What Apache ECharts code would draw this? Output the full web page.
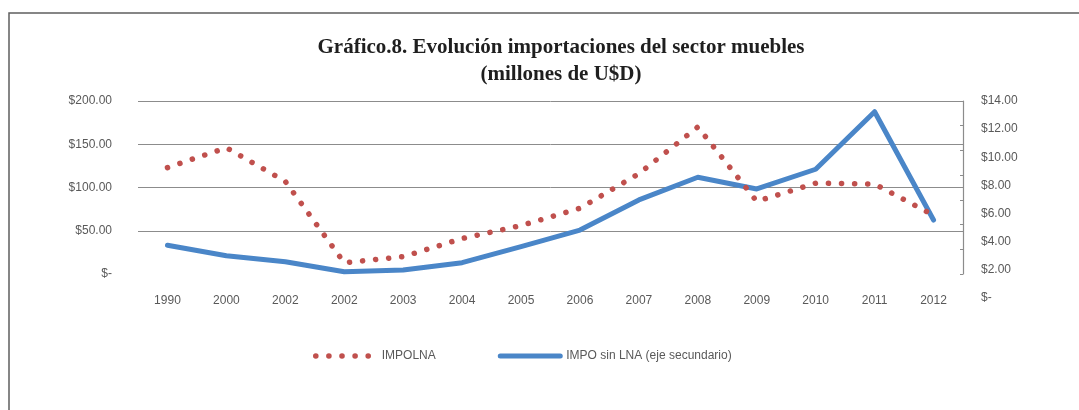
<!DOCTYPE html>
<html>
<head>
<meta charset="utf-8">
<script src="https://cdn.jsdelivr.net/npm/echarts@6/dist/echarts.min.js"></script>
<style>
  html, body { margin: 0; padding: 0; background: #ffffff; }
  #chart { width: 1079px; height: 410px; }
</style>
</head>
<body>
<div id="chart"></div>
<script>
// Years shown on the horizontal axis
const years = ['1990', '2000', '2002', '2002', '2003', '2004', '2005', '2006',
               '2007', '2008', '2009', '2010', '2011', '2012'];

// IMPOLNA, millions of U$D (left axis)
const impolna = [123, 146, 107, 13, 20, 41, 56, 76, 116, 170, 84, 105, 104, 68];

// IMPO sin LNA, millions of U$D (secondary axis)
const impoSinLna = [3.75, 3.0, 2.58, 1.87, 1.99, 2.51, 3.65, 4.83, 6.97, 8.58, 7.75, 9.15, 13.24, 5.54];

const seriesNames = ['IMPOLNA', 'IMPO sin LNA (eje secundario)'];

const RED = '#C0504D';
const BLUE = '#4A86C8';

const money = v => (v === 0 ? '$-' : '$' + v.toFixed(2));

const labelFont = { fontFamily: 'Liberation Sans, Arial, sans-serif', fontSize: 12, color: '#595959' };

const dotted = { color: RED, width: 5.5, type: [0.1, 13], cap: 'round' };
const solid = { color: BLUE, width: 5, cap: 'round', join: 'round' };

const chart = echarts.init(document.getElementById('chart'), null, { renderer: 'canvas' });

chart.setOption({
  backgroundColor: '#ffffff',
  animation: false,
  title: {
    text: 'Gráfico.8. Evolución importaciones del sector muebles\n(millones de U$D)',
    left: 556,
    top: 29,
    textAlign: 'center',
    textStyle: {
      fontFamily: 'Liberation Serif, Times New Roman, serif',
      fontWeight: 'bold',
      fontSize: 21,
      lineHeight: 27,
      color: '#1f1f1f'
    }
  },
  graphic: [{
    type: 'rect',
    shape: { x: 9, y: 13, width: 1200, height: 600 },
    style: { fill: 'none', stroke: '#5f5f5f', lineWidth: 1.5 },
    silent: true
  }],
  legend: {
    left: 308,
    top: 345,
    itemWidth: 60,
    itemHeight: 14,
    itemGap: 62,
    itemStyle: { opacity: 0 },
    data: [
      { name: seriesNames[0], lineStyle: dotted },
      { name: seriesNames[1], lineStyle: solid }
    ],
    textStyle: Object.assign({ padding: [0, 0, 0, 1] }, labelFont)
  },
  grid: [
    { left: 138, right: 116, top: 101, bottom: 136 },
    { left: 138, right: 116, top: 101, bottom: 112 }
  ],
  xAxis: [
    {
      type: 'category',
      gridIndex: 0,
      data: years,
      boundaryGap: true,
      axisLine: { show: false },
      axisTick: { show: false },
      axisLabel: Object.assign({ margin: 21, interval: 0 }, labelFont)
    },
    {
      type: 'category',
      gridIndex: 1,
      data: years,
      boundaryGap: true,
      show: false
    }
  ],
  yAxis: [
    {
      type: 'value',
      gridIndex: 0,
      position: 'left',
      min: 0,
      max: 200,
      interval: 50,
      axisLine: { show: false },
      axisTick: { show: false },
      axisLabel: Object.assign({ margin: 26, formatter: money }, labelFont),
      splitLine: { show: true, showMinLine: false, lineStyle: { color: '#8c8c8c', width: 1 } }
    },
    {
      type: 'value',
      gridIndex: 0,
      position: 'right',
      min: 0,
      max: 14,
      interval: 2,
      axisLine: { show: true, lineStyle: { color: '#8c8c8c', width: 1.2 } },
      axisTick: { show: true, inside: true, length: 3, lineStyle: { color: '#8c8c8c' } },
      axisLabel: { show: false },
      splitLine: { show: false }
    },
    {
      type: 'value',
      gridIndex: 1,
      position: 'right',
      min: 0,
      max: 14,
      interval: 2,
      axisLine: { show: false },
      axisTick: { show: false },
      axisLabel: Object.assign({ margin: 18, formatter: money }, labelFont),
      splitLine: { show: false }
    }
  ],
  series: [
    {
      name: seriesNames[0],
      type: 'line',
      xAxisIndex: 0,
      yAxisIndex: 0,
      data: impolna,
      symbol: 'none',
      smooth: false,
      z: 3,
      lineStyle: dotted,
      itemStyle: { color: RED }
    },
    {
      name: seriesNames[1],
      type: 'line',
      xAxisIndex: 1,
      yAxisIndex: 2,
      data: impoSinLna,
      symbol: 'none',
      smooth: false,
      z: 2,
      lineStyle: solid,
      itemStyle: { color: BLUE }
    }
  ]
});
</script>
</body>
</html>
